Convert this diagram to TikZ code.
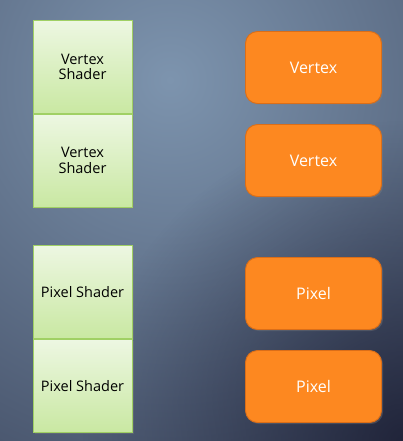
\documentclass[tikz,border=0pt]{standalone}
\usepackage{fontspec}
\setmainfont{Open Sans}
\usetikzlibrary{shadows,fadings}
\definecolor{bgin}{HTML}{7D94AE}
\definecolor{bgout}{HTML}{1E2238}
\definecolor{bgdark}{HTML}{14152A}
\definecolor{gtop}{HTML}{EDF7E2}
\definecolor{gbot}{HTML}{C9E8A2}
\definecolor{gborder}{HTML}{A0D064}
\definecolor{ofill}{HTML}{FD8820}
\definecolor{oborder}{HTML}{DB6E18}
\tikzfading[name=cornerfade, inner color=transparent!25, outer color=transparent!100]
\tikzset{
  shaderbox/.style={draw=gborder, line width=0.9pt, top color=gtop, bottom color=gbot,
    minimum width=99pt, minimum height=93pt, inner sep=0pt, align=center,
    font=\fontsize{14.5}{15.5}\selectfont, text=black,
    drop shadow={shadow xshift=1.5pt, shadow yshift=-1.5pt, opacity=0.35}},
  unitbox/.style={draw=oborder, line width=0.9pt, fill=ofill, rounded corners=12pt,
    minimum width=136pt, minimum height=72pt, inner sep=0pt,
    font=\fontsize{16}{18}\selectfont, text=white,
    drop shadow={shadow xshift=1.5pt, shadow yshift=-1.5pt, opacity=0.35}}
}
\begin{document}
\begin{tikzpicture}[x=1pt,y=-1pt]
  \useasboundingbox (0,0) rectangle (403,441);
  \begin{scope}
    \clip (0,0) rectangle (403,441);
    \shade[inner color=bgin, outer color=bgout] (170-760,80-760) rectangle (170+760,80+760);
    \fill[bgdark, path fading=cornerfade, fit fading=true] (403-320,441-320) rectangle (403+320,441+320);
  \end{scope}
  \node[shaderbox] (vs1) at (82.5,67) {Vertex\\Shader};
  \node[shaderbox] (vs2) at (82.5,160.5) {Vertex\\Shader};
  \node[shaderbox] (ps1) at (82.5,292) {Pixel Shader};
  \node[shaderbox] (ps2) at (82.5,386) {Pixel Shader};
  \node[unitbox] (v1) at (313.5,67.5) {Vertex};
  \node[unitbox] (v2) at (313.5,160.5) {Vertex};
  \node[unitbox] (p1) at (313.5,293.5) {Pixel};
  \node[unitbox] (p2) at (313.5,386.5) {Pixel};
\end{tikzpicture}
\end{document}
